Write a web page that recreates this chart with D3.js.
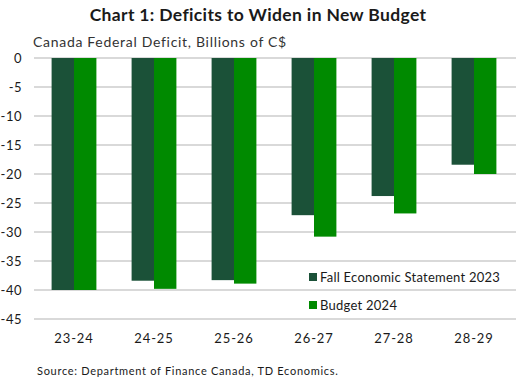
<!DOCTYPE html>
<html>
<head>
<meta charset="utf-8">
<script src="https://cdn.jsdelivr.net/npm/d3@7"></script>
<style>
  body { margin: 0; background: #fff; }
  svg text { font-family: "Lato", "DejaVu Sans", sans-serif; fill: #1a1a1a; }
</style>
</head>
<body>
<div id="chart"></div>
<script>
const categories = ["23-24", "24-25", "25-26", "26-27", "27-28", "28-29"];
const seriesNames = ["Fall Economic Statement 2023", "Budget 2024"];
const fes2023 = [-40.0, -38.4, -38.3, -27.1, -23.8, -18.4];
const budget2024 = [-40.0, -39.8, -38.9, -30.8, -26.8, -20.0];
const yTicks = [0, -5, -10, -15, -20, -25, -30, -35, -40, -45];
const colors = ["#1b5138", "#008a00"];

const width = 516, height = 385;
const margin = {top: 58, right: 2, bottom: 66, left: 34};

const svg = d3.select("#chart").append("svg")
  .attr("width", width)
  .attr("height", height);

// Titles
svg.append("text")
  .attr("x", 258).attr("y", 21)
  .attr("text-anchor", "middle")
  .style("font-size", "17.5px")
  .style("font-weight", "bold")
  .style("letter-spacing", "0.35px")
  .text("Chart 1: Deficits to Widen in New Budget");

svg.append("text")
  .attr("x", 33).attr("y", 47)
  .style("font-size", "14px")
  .style("letter-spacing", "0.7px")
  .style("fill", "#333")
  .text("Canada Federal Deficit, Billions of C$");

const x0 = d3.scaleBand()
  .domain(categories)
  .range([margin.left, width - margin.right])
  .paddingInner(0.44)
  .paddingOuter(0.22);

const x1 = d3.scaleBand()
  .domain(seriesNames)
  .range([0, x0.bandwidth()]);

const y = d3.scaleLinear()
  .domain([0, -45])
  .range([margin.top, height - margin.bottom]);

// gridlines
svg.append("g")
  .selectAll("line")
  .data(yTicks)
  .enter().append("line")
  .attr("x1", margin.left)
  .attr("x2", width)
  .attr("y1", d => y(d))
  .attr("y2", d => y(d))
  .attr("stroke", "#d9d9d9")
  .attr("stroke-width", 2);

// y labels
svg.append("g")
  .selectAll("text")
  .data(yTicks)
  .enter().append("text")
  .attr("x", 22)
  .attr("y", d => y(d) + 5)
  .attr("text-anchor", "end")
  .style("font-size", "13px")
  .style("letter-spacing", "0.5px")
  .text(d => d === 0 ? "0" : "-" + Math.abs(d));

// bars
const rows = categories.map((c, i) => ({cat: c, values: [fes2023[i], budget2024[i]]}));

const groups = svg.append("g")
  .selectAll("g")
  .data(rows)
  .enter().append("g")
  .attr("transform", d => "translate(" + x0(d.cat) + ",0)");

groups.selectAll("rect")
  .data(d => d.values.map((v, j) => ({name: seriesNames[j], value: v, idx: j})))
  .enter().append("rect")
  .attr("x", d => x1(d.name))
  .attr("y", y(0))
  .attr("width", x1.bandwidth())
  .attr("height", d => y(d.value) - y(0))
  .attr("fill", d => colors[d.idx]);

// x labels
svg.append("g")
  .selectAll("text")
  .data(categories)
  .enter().append("text")
  .attr("x", d => x0(d) + x0.bandwidth() / 2)
  .attr("y", 343)
  .attr("text-anchor", "middle")
  .style("font-size", "13px")
  .style("letter-spacing", "0.9px")
  .text(d => d);

// legend
const legend = svg.append("g")
  .selectAll("g")
  .data(seriesNames)
  .enter().append("g")
  .attr("transform", (d, i) => "translate(309," + (273 + i * 28) + ")");

legend.append("rect")
  .attr("width", 8).attr("height", 8)
  .attr("fill", (d, i) => colors[i]);

legend.append("text")
  .attr("x", 11).attr("y", 8.5)
  .style("font-size", "13px")
  .style("letter-spacing", "0.25px")
  .text(d => d);

// source
svg.append("text")
  .attr("x", 37).attr("y", 375)
  .style("font-size", "11px")
  .style("letter-spacing", "0.7px")
  .text("Source: Department of Finance Canada, TD Economics.");
</script>
</body>
</html>
